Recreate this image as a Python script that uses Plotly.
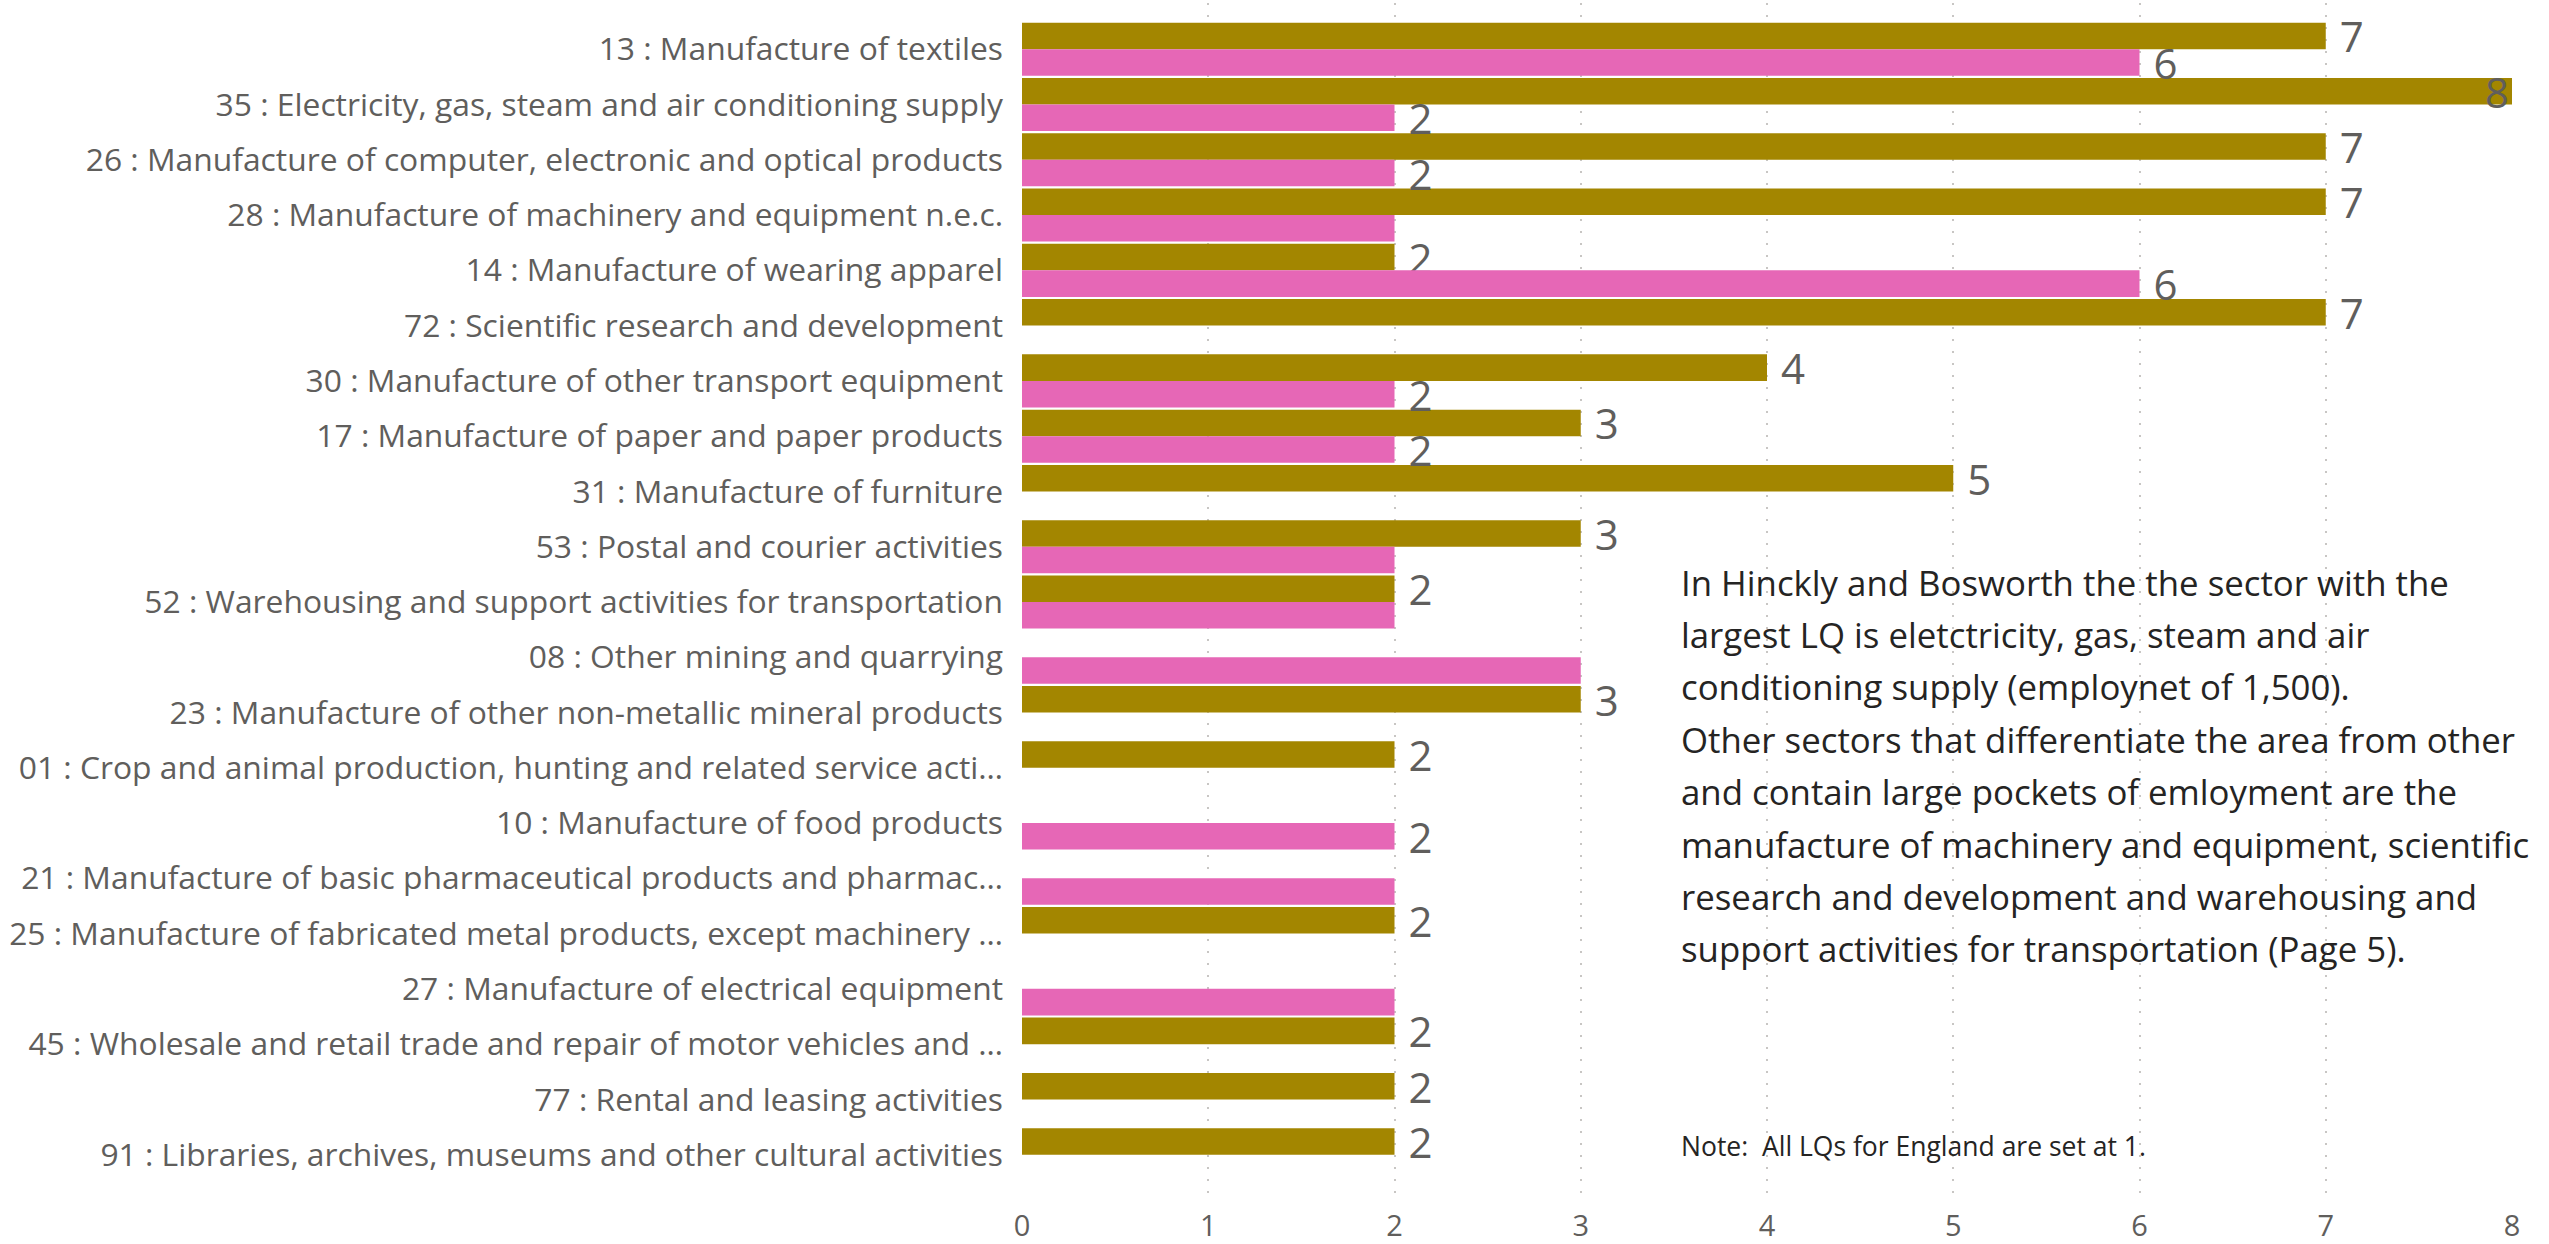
import plotly.graph_objects as go

# ---------------- data ----------------
categories = [
    "13 : Manufacture of textiles",
    "35 : Electricity, gas, steam and air conditioning supply",
    "26 : Manufacture of computer, electronic and optical products",
    "28 : Manufacture of machinery and equipment n.e.c.",
    "14 : Manufacture of wearing apparel",
    "72 : Scientific research and development",
    "30 : Manufacture of other transport equipment",
    "17 : Manufacture of paper and paper products",
    "31 : Manufacture of furniture",
    "53 : Postal and courier activities",
    "52 : Warehousing and support activities for transportation",
    "08 : Other mining and quarrying",
    "23 : Manufacture of other non-metallic mineral products",
    "01 : Crop and animal production, hunting and related service acti…",
    "10 : Manufacture of food products",
    "21 : Manufacture of basic pharmaceutical products and pharmac…",
    "25 : Manufacture of fabricated metal products, except machinery …",
    "27 : Manufacture of electrical equipment",
    "45 : Wholesale and retail trade and repair of motor vehicles and …",
    "77 : Rental and leasing activities",
    "91 : Libraries, archives, museums and other cultural activities",
]

hinckley_lq = [7, 8, 7, 7, 2, 7, 4, 3, 5, 3, 2, None, 3, 2, None, None, 2, None, 2, 2, 2]
comparator_lq = [6, 2, 2, 2, 6, None, 2, 2, None, 2, 2, 3, None, None, 2, 2, None, 2, None, None, None]

# which data labels are visible in the original (overlapping ones were hidden)
hinckley_label_shown = [True] * 21
comparator_label_shown = [True, True, True, False, True, False, True, True, False, False,
                          False, False, False, False, True, False, False, False, False, False, False]

x_ticks = [0, 1, 2, 3, 4, 5, 6, 7, 8]

text_lines = [
    "In Hinckly and Bosworth the the sector with the",
    "largest LQ is eletctricity, gas, steam and air",
    "conditioning supply (employnet of 1,500).",
    "Other sectors that differentiate the area from other",
    "and contain large pockets of emloyment are the",
    "manufacture of machinery and equipment, scientific",
    "research and development and warehousing and",
    "support activities for transportation (Page 5).",
]
note_text = "Note:  All LQs for England are set at 1."

# ---------------- styling ----------------
FONT = "Segoe UI, Open Sans, sans-serif"
GREY = "#605E5C"
OLIVE = "#A38600"
PINK = "#E667B6"
W, H = 2549, 1244
L, R, T, B = 1022, 37, 3, 42
XMAX = 8
LABEL_SIZE = 42


def labels(vals, shown):
    return [(" %g" % v) if (v is not None and s) else "" for v, s in zip(vals, shown)]


def positions(vals):
    return ["inside" if (v is not None and v >= XMAX) else "outside" for v in vals]


fig = go.Figure()
for name, vals, shown, color in [
    ("Hinckley and Bosworth", hinckley_lq, hinckley_label_shown, OLIVE),
    ("Comparator", comparator_lq, comparator_label_shown, PINK),
]:
    fig.add_trace(go.Bar(
        name=name, y=categories, x=vals, orientation="h",
        marker=dict(color=color, line=dict(width=0)),
        text=labels(vals, shown), textposition=positions(vals),
        insidetextanchor="end", constraintext="none", textangle=0,
        textfont=dict(family=FONT, size=LABEL_SIZE, color=GREY),
        insidetextfont=dict(family=FONT, size=LABEL_SIZE, color=GREY),
        outsidetextfont=dict(family=FONT, size=LABEL_SIZE, color=GREY),
        cliponaxis=False,
    ))

n = len(categories)
fig.update_layout(
    width=W, height=H,
    margin=dict(l=L, r=R, t=T, b=B, pad=0, autoexpand=False),
    paper_bgcolor="white", plot_bgcolor="white",
    barmode="group", bargap=0.04, bargroupgap=0,
    showlegend=False,
    font=dict(family=FONT, color=GREY),
    xaxis=dict(
        range=[0, XMAX], tickvals=x_ticks, ticktext=[str(t) for t in x_ticks],
        showgrid=True, gridcolor="#C8C6C4", gridwidth=2, griddash="2px,10px",
        zeroline=False, showline=False, ticks="",
        tickfont=dict(family=FONT, size=29, color=GREY),
        ticklabelstandoff=4, fixedrange=True, automargin=False,
    ),
    yaxis=dict(
        type="category", categoryorder="array", categoryarray=categories,
        range=[n - 0.5 + 0.356, -0.5 - 0.337], autorange=False,
        showgrid=False, zeroline=False, showline=False, ticks="",
        tickfont=dict(family=FONT, size=31.8, color=GREY),
        ticklabelstandoff=18, fixedrange=True, automargin=False,
    ),
)

plot_w = W - L - R
plot_h = H - T - B
text_x_px = 1679
first_line_px = 582
line_step_px = 52.4
for i, line in enumerate(text_lines):
    ypx = first_line_px + i * line_step_px
    fig.add_annotation(
        text=line, xref="paper", yref="paper",
        x=(text_x_px - L) / plot_w, y=(H - B - ypx) / plot_h,
        xanchor="left", yanchor="middle", showarrow=False,
        font=dict(family=FONT, size=34.8, color="#252423"),
    )
fig.add_annotation(
    text=note_text, xref="paper", yref="paper",
    x=(text_x_px - L) / plot_w, y=(H - B - 1146) / plot_h,
    xanchor="left", yanchor="middle", showarrow=False,
    font=dict(family=FONT, size=26.5, color="#252423"),
)

fig.write_html("out.html", config={"displayModeBar": False},
               post_script="document.body.style.margin='0';document.body.style.overflow='hidden';")
